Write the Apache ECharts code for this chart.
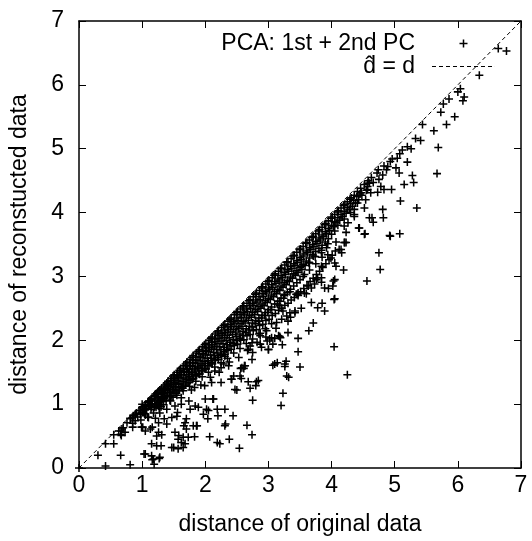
<!DOCTYPE html>
<html><head><meta charset="utf-8">
<script src="https://cdn.jsdelivr.net/npm/echarts@6/dist/echarts.min.js"></script>
<style>html,body{margin:0;padding:0;background:#fff}#c{width:532px;height:541px}</style>
</head><body><div id="c"></div>
<script>
var xTicks = [0,1,2,3,4,5,6,7];
var yTicks = [0,1,2,3,4,5,6,7];
var seriesNames = ['PCA: 1st + 2nd PC', 'd\u0302 = d'];
var diagonal = [[0,0],[7,7]];

var bandPoints = [
[0.55,0.52],[0.63,0.58],[0.70,0.63],[0.76,0.71],[0.82,0.77],[0.85,0.70],[0.89,0.84],
[0.91,0.86],[0.93,0.80],[0.95,0.90],[0.97,0.84],[0.98,0.75],
[1.01,0.96],[1.03,0.91],[1.04,0.85],[1.06,0.99],[1.07,0.93],[1.09,0.80],[1.09,1.03],
[1.11,1.05],[1.12,0.98],[1.14,0.92],[1.15,1.09],[1.16,1.01],[1.18,0.86],[1.19,1.12],[1.19,0.95],
[1.21,1.16],[1.22,1.08],[1.23,1.00],[1.25,1.19],[1.26,1.12],[1.27,0.93],[1.28,1.22],[1.29,1.05],
[1.31,1.25],[1.32,1.17],[1.33,1.09],[1.34,0.99],[1.36,1.30],[1.37,1.21],[1.38,1.12],[1.39,1.33],
[1.41,1.36],[1.42,1.27],[1.43,1.18],[1.44,1.06],[1.46,1.40],[1.47,1.31],[1.48,1.22],[1.49,1.44],[1.49,1.11],
[1.51,1.46],[1.52,1.37],[1.53,1.27],[1.54,1.17],[1.56,1.50],[1.57,1.41],[1.58,1.32],[1.59,1.53],[1.59,1.22],
[1.61,1.56],[1.62,1.46],[1.63,1.36],[1.64,1.25],[1.66,1.60],[1.67,1.50],[1.68,1.41],[1.69,1.63],[1.69,1.30],
[1.71,1.66],[1.72,1.55],[1.73,1.46],[1.74,1.34],[1.76,1.70],[1.77,1.60],[1.78,1.50],[1.79,1.73],[1.79,1.39],
[1.81,1.76],[1.82,1.65],[1.83,1.55],[1.84,1.44],[1.86,1.80],[1.87,1.69],[1.88,1.58],[1.89,1.83],[1.89,1.48],
[1.91,1.85],[1.92,1.74],[1.93,1.63],[1.94,1.52],[1.96,1.90],[1.97,1.79],[1.98,1.67],[1.99,1.93],[1.99,1.56],
[2.01,1.95],[2.02,1.84],[2.03,1.72],[2.04,1.60],[2.06,2.00],[2.07,1.89],[2.08,1.77],[2.09,2.03],[2.09,1.65],
[2.11,2.05],[2.12,1.93],[2.13,1.81],[2.14,1.69],[2.16,2.10],[2.17,1.98],[2.18,1.86],[2.19,2.13],[2.19,1.73],
[2.21,2.15],[2.22,2.03],[2.23,1.90],[2.24,1.78],[2.26,2.20],[2.27,2.08],[2.28,1.95],[2.29,2.23],[2.29,1.82],
[2.31,2.25],[2.32,2.12],[2.33,2.00],[2.34,1.86],[2.36,2.30],[2.37,2.17],[2.38,2.04],[2.39,2.33],[2.39,1.91],
[2.41,2.35],[2.42,2.22],[2.43,2.09],[2.44,1.95],[2.46,2.40],[2.47,2.27],[2.48,2.13],[2.49,2.43],[2.49,2.00],
[2.51,2.45],[2.52,2.31],[2.53,2.18],[2.54,2.03],[2.56,2.49],[2.57,2.36],[2.58,2.22],[2.59,2.52],[2.59,2.08],
[2.61,2.54],[2.62,2.41],[2.63,2.27],[2.64,2.12],[2.66,2.58],[2.67,2.45],[2.68,2.31],[2.69,2.62],[2.69,2.16],
[2.71,2.64],[2.72,2.50],[2.73,2.36],[2.74,2.21],[2.76,2.68],[2.77,2.55],[2.78,2.40],[2.79,2.72],[2.79,2.26],
[2.81,2.74],[2.82,2.60],[2.83,2.45],[2.84,2.30],[2.86,2.78],[2.87,2.64],[2.88,2.50],[2.89,2.82],[2.89,2.35],
[2.91,2.84],[2.92,2.69],[2.93,2.54],[2.94,2.39],[2.96,2.88],[2.97,2.74],[2.98,2.59],[2.99,2.92],[2.99,2.44],
[3.01,2.94],[3.02,2.79],[3.03,2.64],[3.04,2.48],[3.06,2.98],[3.07,2.83],[3.08,2.68],[3.09,3.02],
[3.11,3.04],[3.12,2.89],[3.13,2.73],[3.14,2.57],[3.16,3.08],[3.17,2.93],[3.18,2.78],[3.19,3.12],
[3.21,3.13],[3.22,2.98],[3.23,2.83],[3.24,2.66],[3.26,3.18],[3.27,3.03],[3.28,2.87],[3.29,3.22],
[3.31,3.23],[3.32,3.08],[3.33,2.92],[3.34,2.76],[3.36,3.28],[3.37,3.12],[3.38,2.97],[3.39,3.32],
[3.41,3.33],[3.42,3.17],[3.43,3.02],[3.45,3.38],[3.46,3.22],[3.47,3.06],[3.49,3.42],
[3.51,3.43],[3.52,3.27],[3.53,3.11],[3.55,3.47],[3.56,3.32],[3.58,3.17],[3.59,3.52],
[3.61,3.53],[3.62,3.37],[3.64,3.22],[3.65,3.57],[3.67,3.42],[3.69,3.61],
[3.71,3.63],[3.72,3.47],[3.74,3.31],[3.75,3.67],[3.77,3.52],[3.79,3.71],
[3.81,3.73],[3.82,3.57],[3.84,3.41],[3.85,3.77],[3.87,3.62],[3.89,3.81],
[3.91,3.83],[3.92,3.67],[3.94,3.51],[3.95,3.87],[3.97,3.72],[3.99,3.91],
[4.01,3.93],[4.03,3.78],[4.05,3.97],[4.07,3.84],[4.09,4.01],
[4.11,4.03],[4.13,3.88],[4.15,4.07],[4.17,3.94],[4.19,4.11],
[4.21,4.13],[4.23,3.99],[4.25,4.17],[4.28,4.05],[4.29,4.21],
[4.31,4.23],[4.33,4.10],[4.36,4.27],[4.38,4.15],
[4.41,4.33],[4.43,4.20],[4.46,4.38],[4.48,4.27],
[4.52,4.44],[4.55,4.35],[4.58,4.50],[4.63,4.55],[4.66,4.47]
];

var bandPoints2 = [
[1.00,0.94],[1.00,0.87],[1.05,0.98],[1.05,0.92],[1.05,0.83],[1.10,1.04],[1.10,0.96],
[1.15,1.07],[1.15,1.00],[1.15,0.95],[1.20,1.13],[1.20,1.05],[1.20,0.97],
[1.25,1.17],[1.25,1.10],[1.25,1.02],[1.30,1.22],[1.30,1.15],[1.30,1.06],[1.30,0.96],
[1.35,1.27],[1.35,1.18],[1.35,1.10],[1.40,1.31],[1.40,1.24],[1.40,1.14],
[1.45,1.37],[1.45,1.28],[1.45,1.19],[1.45,1.05],[1.50,1.41],[1.50,1.33],[1.50,1.23],
[1.55,1.46],[1.55,1.37],[1.55,1.27],[1.55,1.14],[1.60,1.50],[1.60,1.42],[1.60,1.31],
[1.65,1.55],[1.65,1.46],[1.65,1.35],[1.65,1.21],[1.70,1.60],[1.70,1.51],[1.70,1.39],
[1.75,1.65],[1.75,1.55],[1.75,1.43],[1.75,1.28],[1.80,1.69],[1.80,1.59],[1.80,1.47],
[1.85,1.74],[1.85,1.64],[1.85,1.52],[1.85,1.36],[1.90,1.79],[1.90,1.68],[1.90,1.56],
[1.95,1.83],[1.95,1.73],[1.95,1.60],[1.95,1.43],[2.00,1.88],[2.00,1.77],[2.00,1.64],
[2.05,1.93],[2.05,1.82],[2.05,1.68],[2.05,1.50],[2.10,1.97],[2.10,1.86],[2.10,1.72],
[2.15,2.02],[2.15,1.90],[2.15,1.76],[2.15,1.58],[2.20,2.07],[2.20,1.95],[2.20,1.80],
[2.25,2.11],[2.25,1.99],[2.25,1.85],[2.25,1.65],[2.30,2.16],[2.30,2.04],[2.30,1.89],
[2.35,2.21],[2.35,2.08],[2.35,1.93],[2.35,1.72],[2.40,2.25],[2.40,2.13],[2.40,1.97],
[2.45,2.30],[2.45,2.17],[2.45,2.01],[2.45,1.80],[2.50,2.35],[2.50,2.21],[2.50,2.06],
[2.55,2.40],[2.55,2.26],[2.55,2.10],[2.55,1.87],[2.60,2.44],[2.60,2.30],[2.60,2.14],
[2.65,2.49],[2.65,2.35],[2.65,2.18],[2.65,1.95],[2.70,2.54],[2.70,2.39],[2.70,2.22],
[2.75,2.58],[2.75,2.44],[2.75,2.27],[2.75,2.02],[2.80,2.63],[2.80,2.48],[2.80,2.31],
[2.85,2.68],[2.85,2.53],[2.85,2.35],[2.85,2.10],[2.90,2.73],[2.90,2.57],[2.90,2.39],
[2.95,2.77],[2.95,2.62],[2.95,2.43],[2.95,2.18],[3.00,2.82],[3.00,2.66],[3.00,2.48],
[3.05,2.87],[3.05,2.71],[3.05,2.52],[3.05,2.26],[3.10,2.92],[3.10,2.76],[3.10,2.57],
[3.15,2.96],[3.15,2.80],[3.15,2.61],[3.20,3.01],[3.20,2.85],[3.20,2.66],
[3.25,3.06],[3.25,2.90],[3.25,2.70],[3.30,3.11],[3.30,2.94],[3.30,2.75],
[3.35,3.16],[3.35,2.99],[3.35,2.80],[3.40,3.20],[3.40,3.04],[3.40,2.85],
[3.45,3.25],[3.45,3.09],[3.45,2.90],[3.50,3.30],[3.50,3.14],[3.50,2.95],
[3.55,3.35],[3.55,3.19],[3.55,3.00],[3.60,3.40],[3.60,3.24],
[3.65,3.45],[3.65,3.29],[3.65,3.10],[3.70,3.50],[3.70,3.34],
[3.75,3.55],[3.75,3.39],[3.75,3.20],[3.80,3.60],[3.80,3.44],
[3.85,3.65],[3.85,3.49],[3.85,3.30],[3.90,3.70],[3.90,3.54],
[3.95,3.75],[3.95,3.59],[4.00,3.80],[4.00,3.66],[4.05,3.86],[4.05,3.71],
[4.10,3.92],[4.10,3.80],[4.15,3.97],[4.20,4.02],[4.20,3.90],[4.25,4.08],
[4.30,4.14],[4.30,4.00],[4.35,4.19],[4.40,4.25],[4.45,4.29]
];

var bandLower = [
[1.22,0.95],[1.28,0.99],[1.33,1.04],[1.38,1.06],[1.43,1.12],[1.47,1.13],[1.52,1.19],[1.57,1.21],
[1.62,1.27],[1.66,1.28],[1.71,1.33],[1.76,1.37],[1.81,1.40],[1.86,1.45],[1.91,1.47],[1.96,1.53],
[2.01,1.55],[2.06,1.61],[2.11,1.63],[2.16,1.69],[2.21,1.70],[2.26,1.76],[2.31,1.78],[2.36,1.84],
[2.41,1.86],[2.46,1.92],[2.51,1.94],[2.56,2.00],[2.61,2.01],[2.66,2.07],[2.71,2.09],[2.76,2.15],
[2.81,2.17],[2.86,2.23],[2.91,2.25],[2.96,2.31],[3.01,2.33],[3.06,2.39],[3.11,2.42],[3.16,2.47],
[3.21,2.50],[3.26,2.55],[3.31,2.58],[3.36,2.63],[3.41,2.67],[3.46,2.72],[3.51,2.76],[3.56,2.81],
[3.61,2.86],[3.66,2.92],[3.71,2.97],[3.76,3.03],[3.81,3.08],[3.86,3.14],[3.91,3.20],[3.96,3.26],
[4.01,3.33],[4.06,3.40],
[1.62,1.10],[1.78,1.22],[1.93,1.30],[2.08,1.42],[2.22,1.50],[2.38,1.66],[2.53,1.73],[2.67,1.84],
[2.82,1.97],[2.96,2.05],[3.12,2.19],[3.35,2.36],[3.52,2.50]
];

var upperTail = [
[6.64,6.57],[6.77,6.53],[6.34,6.15],[6.04,5.94],[6.00,5.89],[6.10,5.81],[6.08,5.75],[5.86,5.78],
[5.77,5.70],[5.73,5.57],[5.95,5.50],[5.82,5.38],[5.44,5.38],[5.62,5.28],[5.69,5.02],[5.67,4.61],
[5.33,5.16],[5.41,5.13],[5.20,5.03],[5.26,5.00],[5.12,4.98],[5.08,4.92],[5.04,4.85],[4.96,4.84],
[4.93,4.80],[4.89,4.72],[4.83,4.73],[4.74,4.67],[4.72,4.62],[4.81,4.59],[4.87,4.67],[5.02,4.70],
[5.07,4.62],[5.20,4.79],[5.28,4.58],[5.30,4.47],[5.15,4.44],[4.95,4.36],[4.75,4.52],[4.78,4.41],
[4.83,4.36],[4.73,4.32],[4.60,4.46],[4.57,4.41],[4.62,4.31],[5.35,4.07],[5.09,4.18],[4.81,4.05],
[4.82,3.92],[4.64,3.92],[4.66,3.85],[5.08,3.67],[4.92,3.64],[4.93,3.63],[4.75,3.37],[4.77,3.11],
[4.56,2.93],[4.53,3.67],[4.43,3.76],[4.36,3.94],[4.19,3.10],[4.05,2.95],[4.04,2.64],[4.21,3.53],
[4.15,3.42],[4.07,3.54],[4.05,3.21],[4.03,2.93],[4.04,1.90],[4.25,1.46]
];

var midScatter = [
[4.52,3.66],[4.44,3.76],[4.36,3.97],[4.23,3.69],[4.20,3.53],[4.12,3.42],[4.16,3.37],[4.07,3.16],
[3.99,3.29],[4.02,2.85],[3.89,2.82],[3.84,2.98],[3.73,2.88],[3.68,2.82],[3.63,2.85],[3.57,2.74],
[3.47,2.70],[4.05,2.65],[3.78,2.98],[3.84,3.16],[3.94,3.34],[3.92,3.45],[3.84,3.37],[3.71,3.32],
[3.65,3.21],[3.52,3.16],[3.57,3.03],[4.23,3.53],[4.26,3.84],[4.20,3.79],[4.36,4.05],[4.41,4.15],
[4.54,4.20],[4.52,4.07],[4.57,4.46],[4.47,4.31],[4.57,4.36],[4.60,3.92],
[3.76,2.95],[3.84,2.91],[3.95,2.81],[3.89,2.46],[3.78,2.51],[3.85,2.58],[3.71,2.27],[3.64,2.15],
[3.47,2.03],[3.31,2.12],[3.18,2.06],[3.47,2.74],[3.60,2.73],[3.68,2.59],[3.47,1.82],[3.50,1.58],
[3.32,1.42],[3.23,1.17],[3.20,0.98],[3.26,1.59],[3.28,1.67],[3.14,1.65],[3.07,1.61],[3.00,1.85],
[3.22,1.93],[3.07,1.94],[3.19,2.04],[2.98,1.99],[2.87,2.11],[2.87,1.94],[2.75,1.81],[2.74,1.70],
[2.62,1.60],[2.56,1.56],[2.57,1.40],[2.42,1.39],[2.68,1.35],[2.81,1.35],[2.80,1.29],[2.71,1.25],
[2.50,1.22],[2.75,1.06],[2.44,0.82],[2.66,0.67],[2.74,0.52],[2.38,0.45],[2.54,0.31],
[3.42,2.46],[3.44,2.72],[3.42,2.43],[3.26,1.63],[3.29,1.44],[3.10,1.63],[3.05,2.04],[3.16,2.07],
[3.21,2.33],[3.31,2.30],[3.34,2.43],[3.18,2.54],[3.00,1.86],[2.89,1.89],[2.74,1.96],[2.68,1.86],
[2.63,1.60],[2.58,1.57],[2.37,1.60],[2.29,1.63],[2.45,1.44],[2.55,1.44],[2.87,2.07],[2.97,2.15],
[3.02,2.02],[3.13,2.28],[3.23,2.46],[3.18,2.61],[3.26,2.72],[3.29,2.38],[3.10,2.03],[2.71,1.91],
[2.61,1.56],[2.84,1.37],[2.47,1.23],[2.41,1.39]
];

var lowerLeft = [
[0,0],[0.42,0.03],[0.81,0.05],[1.19,0.06],[0.30,0.20],[0.66,0.20],[0.42,0.38],[0.55,0.38],
[1.05,0.22],[1.15,0.19],[1.28,0.17],[1.18,0.14],[1.23,0.35],[1.30,0.35],[1.47,0.32],[1.57,0.30],
[1.65,0.32],[1.62,0.40],[1.57,0.45],[1.68,0.38],[2.07,0.49],[2.23,0.38],[2.19,0.40],[1.52,0.56],
[1.65,0.48],[1.73,0.48],[1.83,0.49],[1.81,0.66],[1.70,0.61],[1.68,0.71],[1.26,0.56],[1.23,0.50],
[1.31,0.52],[1.15,0.38],[1.26,0.71],[1.39,0.69],[1.47,0.79],[1.55,0.81],[1.70,0.77],[1.86,0.66],
[1.76,0.92],[1.89,0.95],[1.62,1.00],[1.52,0.97],[1.31,1.08],[1.26,0.97],[1.02,0.87],[0.89,0.74],
[0.99,0.64],[1.05,0.58],[1.13,0.61],[0.68,0.61],[0.66,0.53],[0.73,0.56],[0.81,0.78],[0.86,0.82],
[0.97,0.90],[1.05,0.97],[1.13,1.05],[1.00,1.00],[1.10,0.79],[1.21,0.78],[1.28,0.86],[1.39,0.92],
[1.23,1.16],[1.34,1.23],[1.42,1.29],[1.52,1.34],[1.57,1.44],[1.73,1.50],[1.83,1.26],[1.99,1.29],
[2.10,1.34],[2.12,1.08],[2.02,0.92],[1.97,0.84],[2.04,0.77],[2.20,0.82],[2.31,0.92],[2.31,0.66],
[2.25,1.34],[2.15,1.52],[2.25,1.57],[2.31,1.75],[2.32,0.69],[1.87,0.66],[1.50,0.32],[1.27,0.15],
[1.16,0.13],[1.03,0.22],[0.67,0.58],[0.85,0.79],[2.00,1.08],[2.13,1.08],[2.05,0.90],[2.19,0.92],
[1.84,0.97],[1.74,1.05],[1.56,0.87],[1.66,0.66],[1.58,0.51],[1.35,0.77],[1.16,0.64],[1.01,0.64],
[0.85,0.64],[0.67,0.51]
];

var allPoints = bandPoints.concat(bandPoints2, bandLower, upperTail, midScatter, lowerLeft);

var FONT = 'Liberation Sans';
var plus = 'path://M-0.19,-1 L0.19,-1 L0.19,-0.19 L1,-0.19 L1,0.19 L0.19,0.19 L0.19,1 L-0.19,1 L-0.19,0.19 L-1,0.19 L-1,-0.19 L-0.19,-0.19 Z';
var dashIcon = 'path://M0,0 L4,0 L4,1 L0,1 Z M7,0 L11,0 L11,1 L7,1 Z M14,0 L18,0 L18,1 L14,1 Z M21,0 L25,0 L25,1 L21,1 Z M28,0 L32,0 L32,1 L28,1 Z M35,0 L39,0 L39,1 L35,1 Z M42,0 L46,0 L46,1 L42,1 Z M49,0 L53,0 L53,1 L49,1 Z M56,0 L60,0 L60,1 L56,1 Z M63,0 L63,1 L62.9,1 Z';

function axisBase(pos, showLabel) {
  return {
    type: 'value', position: pos, min: xTicks[0], max: xTicks[xTicks.length-1], interval: 1,
    splitLine: {show: false},
    axisLine: {show: true, onZero: false, lineStyle: {color: '#000', width: 1.5}},
    axisTick: {show: true, inside: true, length: 7, lineStyle: {color: '#000', width: 1}},
    axisLabel: {show: showLabel, color: '#000', fontSize: 23, fontFamily: FONT}
  };
}
var xb = axisBase('bottom', true);
xb.name = 'distance of original data'; xb.nameLocation = 'middle'; xb.nameGap = 45;
xb.nameTextStyle = {color: '#000', fontSize: 23, fontFamily: FONT};
xb.axisLabel.margin = 6;
var xt = axisBase('top', false);
var yl = axisBase('left', true);
yl.min = yTicks[0]; yl.max = yTicks[yTicks.length-1];
yl.name = 'distance of reconstucted data'; yl.nameLocation = 'middle'; yl.nameGap = 48;
yl.nameTextStyle = {color: '#000', fontSize: 23, fontFamily: FONT};
yl.axisLabel.margin = 15;
var yr = axisBase('right', false);
yr.min = yTicks[0]; yr.max = yTicks[yTicks.length-1];

var chart = echarts.init(document.getElementById('c'), null, {renderer: 'canvas'});
chart.setOption({
  animation: false,
  backgroundColor: '#fff',
  grid: {left: 76, right: 11, top: 21, bottom: 72, containLabel: false},
  xAxis: [xb, xt],
  yAxis: [yl, yr],
  legend: {
    orient: 'vertical', right: 37, top: 32, padding: 0, align: 'right',
    itemWidth: 63, itemHeight: 8, itemGap: 0, selectedMode: false,
    textStyle: {color: '#000', fontSize: 23, fontFamily: FONT, lineHeight: 17, padding: [0, 12, 0, 0]},
    data: [{name: seriesNames[0], icon: plus}, {name: seriesNames[1], icon: dashIcon, itemStyle: {color: '#000'}}]
  },
  series: [
    {name: seriesNames[0], type: 'scatter', data: allPoints, symbol: plus, symbolSize: 8, clip: false,
     itemStyle: {color: '#000', opacity: 1}, xAxisIndex: 0, yAxisIndex: 0},
    {name: seriesNames[1], type: 'line', data: diagonal, symbol: 'none', showSymbol: false,
     lineStyle: {color: '#000', width: 1, type: [4, 3]}, itemStyle: {color: '#000'}, z: 3,
     xAxisIndex: 0, yAxisIndex: 0}
  ]
});
</script></body></html>
